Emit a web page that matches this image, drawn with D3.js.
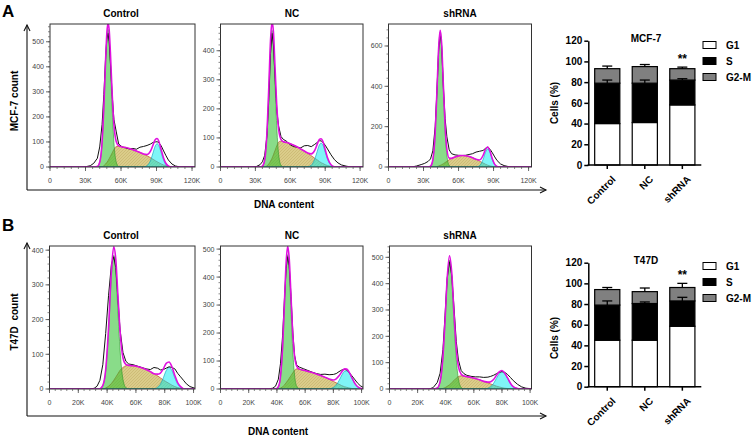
<!DOCTYPE html>
<html><head><meta charset="utf-8">
<script src="https://cdn.jsdelivr.net/npm/d3@7"></script>
<style>body{margin:0;background:#fff} svg{display:block;font-family:"Liberation Sans",Arial,sans-serif}</style>
</head><body><svg id="c" width="753" height="437"></svg>
<script>
// ---------------- DATA ----------------
const histTitles = ["Control", "NC", "shRNA"];
const xTicksA = [0, 30, 60, 90, 120];
const xTickLabelsA = ["0", "30K", "60K", "90K", "120K"];
const xTicksB = [0, 20, 40, 60, 80, 100];
const xTickLabelsB = ["0", "20K", "40K", "60K", "80K", "100K"];

// MCF-7 Control (DNA content in K, counts)
const aCtrlX  = [0,28,31,34,37,40,42,44,45.5,47,48,49,50,51,52.5,54,56,58,61,64,67,70,73,76,79,82,85,87,89,90.5,92,94,96,98,100,103,106,110,122.5];
const aCtrlG1 = [0,0,0,0,0,2,19,99,237,418,514,550,514,418,237,99,19,2,0,0,0,0,0,0,0,0,0,0,0,0,0,0,0,0,0,0,0,0,0];
const aCtrlS  = [0,0,0,0,0,0,0,0,5,12,18,25,33,42,56,70,82,83,80,78,74,69,64,58,52,45,37,31,25,21,17,12,8,5,2,0,0,0,0];
const aCtrlG2 = [0,0,0,0,0,0,0,0,0,0,0,0,0,0,0,0,0,0,0,0,0,0,0,0,0,5,27,56,85,93,85,56,27,9,2,0,0,0,0];
const aCtrlObs= [0,0,2,5,15,35,80,170,290,440,510,534,500,420,290,190,140,92,80,76,72,74,71,79,82,86,92,98,100,101,97,84,64,45,28,12,4,0,0];
const aCtrlY  = [0,100,200,300,400,500];

// MCF-7 NC
const aNcX  = [0,28,31,34,36,38,40,41.5,43,44.3,45.5,47,48.5,50,52,54,57,60,63,66,69,72,75,78,81,83,85,86.5,88,90,92,95,98,101,104,108,112,122.5];
const aNcG1 = [0,0,0,0,3,25,120,263,415,470,423,274,128,43,6,0,0,0,0,0,0,0,0,0,0,0,0,0,0,0,0,0,0,0,0,0,0,0];
const aNcS  = [0,0,0,0,0,0,4,10,20,30,42,58,74,86,89,87,84,80,75,69,62,55,47,39,30,25,19,15,12,8,5,2,0,0,0,0,0,0];
const aNcG2 = [0,0,0,0,0,0,0,0,0,0,0,0,0,0,0,0,0,0,0,0,0,0,1,6,27,52,76,82,76,52,27,6,1,0,0,0,0,0];
const aNcObs= [0,0,2,8,18,40,110,230,390,460,420,300,190,140,105,95,88,76,70,68,66,73,74,70,78,84,90,90,85,75,62,42,25,14,7,3,0,0];
const aNcY  = [0,100,200,300,400];

// MCF-7 shRNA
const aShX  = [0,20,24,28,31,34,36,38,40,41.5,43,44.3,45.5,47,48.5,50,52,54,57,60,63,66,69,72,75,78,81,83,85,87,89,91,93,96,99,102,106,122.5];
const aShG1 = [0,0,0,0,0,0,4,36,171,375,590,670,603,389,181,60,8,0,0,0,0,0,0,0,0,0,0,0,0,0,0,0,0,0,0,0,0,0];
const aShS  = [0,0,0,0,0,0,0,0,0,2,5,8,11,16,22,28,36,43,50,55,57,56,52,46,38,29,20,14,9,5,3,1,0,0,0,0,0,0];
const aShG2 = [0,0,0,0,0,0,0,0,0,0,0,0,0,0,0,0,0,0,0,0,0,0,0,0,0,6,37,72,90,72,37,12,3,0,0,0,0,0];
const aShObs= [0,0,5,12,18,28,40,80,200,380,580,663,600,400,240,150,85,66,60,58,57,58,62,66,74,78,82,92,98,88,70,50,32,15,7,3,0,0];
const aShY  = [0,200,400,600];

// T47D Control
const bCtrlX  = [0,28,31,33,35,37,39,41,43,44.6,46,47.5,49,51,53,55,58,61,64,67,70,72.5,75,77,79,81,83,85,87,89,91,93,95,97.5,101];
const bCtrlG1 = [0,0,0,0,1,10,52,168,327,385,340,225,112,28,4,0,0,0,0,0,0,0,0,0,0,0,0,0,0,0,0,0,0,0,0];
const bCtrlS  = [0,0,0,0,0,0,3,8,16,25,34,44,54,62,67,68,67,65,61,56,50,44,38,32,26,21,16,11,7,4,2,0,0,0,0];
const bCtrlG2 = [0,0,0,0,0,0,0,0,0,0,0,0,0,0,0,0,0,0,0,0,0,0,5,14,32,53,62,53,32,14,5,1,0,0,0];
const bCtrlObs= [0,0,2,8,25,70,160,270,360,381,350,260,170,105,80,72,70,66,62,58,56,62,60,55,56,60,64,62,58,45,35,25,15,7,2];
const bCtrlY  = [0,100,200,300,400];

// T47D NC
const bNcX  = [0,30,34,37,39,41,42.5,44,45.3,46.5,47.6,48.7,50,51.3,52.5,54,56,59,62,65,68,71,74,77,80,82,84,86,88,89.5,91,93,95,97,99,101];
const bNcG1 = [0,0,0,0,0,8,41,141,291,428,480,428,279,131,50,10,1,0,0,0,0,0,0,0,0,0,0,0,0,0,0,0,0,0,0,0];
const bNcS  = [0,0,0,0,0,0,3,8,14,22,30,38,48,58,67,72,70,67,63,59,54,48,42,35,27,22,17,12,8,6,4,2,1,0,0,0];
const bNcG2 = [0,0,0,0,0,0,0,0,0,0,0,0,0,0,0,0,0,0,0,0,0,0,0,1,5,14,30,50,64,65,58,40,21,9,3,1];
const bNcObs= [0,0,0,3,10,35,90,190,320,430,473,440,330,200,120,85,78,72,66,60,55,52,53,51,52,55,62,68,70,68,60,48,35,22,12,6];
const bNcY  = [0,100,200,300,400,500];

// T47D shRNA
const bShX  = [0,28,31,34,36,38,39.5,41,42.7,44.3,46,47.5,49,51,53,55,58,61,64,67,70,72,74,76,78,80,82,84,86,88,91,94,97,101];
const bShG1 = [0,0,0,4,28,120,255,408,490,416,244,112,39,6,0,0,0,0,0,0,0,0,0,0,0,0,0,0,0,0,0,0,0,0];
const bShS  = [0,0,0,0,0,2,5,10,16,24,33,41,47,50,49,47,44,40,35,29,23,19,15,11,8,5,3,2,1,0,0,0,0,0];
const bShG2 = [0,0,0,0,0,0,0,0,0,0,0,0,0,0,0,0,0,0,0,0,3,9,21,40,57,65,57,40,21,9,2,0,0,0];
const bShObs= [0,0,5,25,60,150,280,420,483,430,300,180,110,70,58,52,48,46,46,44,45,48,52,58,63,66,63,55,44,32,18,8,3,1];
const bShY  = [0,100,200,300,400,500];

// Bar charts (% cells)
const barCats = ["Control", "NC", "shRNA"];
const phaseKeys = ["G1", "S", "G2-M"];
const barTicks = [0, 20, 40, 60, 80, 100, 120];
const mcfG1  = [40, 41, 58];
const mcfS   = [39, 38, 24];
const mcfG2M = [14, 16, 11];
const mcfErrS  = [3, 3, 1.3];
const mcfErrG2 = [2.5, 2, 1.5];
const t47G1  = [45, 45, 58.5];
const t47S   = [34, 35.5, 24.5];
const t47G2M = [15, 11.5, 13];
const t47ErrS  = [4, 1.5, 3.5];
const t47ErrG2 = [2, 3.5, 4];
const sigMarks = ["", "", "**"];

// ---------------- DRAWING ----------------
const svg = d3.select("#c");
const defs = svg.append("defs");
const pat = defs.append("pattern").attr("id","hatch").attr("patternUnits","userSpaceOnUse")
  .attr("width",3).attr("height",3);
pat.append("rect").attr("width",3).attr("height",3).attr("fill","rgba(195,170,60,0.6)");
pat.append("path").attr("d","M0,3 L3,0").attr("stroke","rgba(140,110,30,0.3)").attr("stroke-width",0.6);

function histPanel(p, idx) {
  const x = d3.scaleLinear().domain([0, p.xmax]).range([p.x0, p.x1]);
  const y = d3.scaleLinear().domain([0, p.ymax]).range([p.yb, p.yt]);
  const cid = "clip" + idx;
  defs.append("clipPath").attr("id", cid).append("rect")
    .attr("x", p.x0).attr("y", p.yt).attr("width", p.x1 - p.x0).attr("height", p.yb - p.yt);
  const pts = arr => p.xs.map((v, i) => [v, arr[i]]);
  const area = d3.area().x(d => x(d[0])).y0(y(0)).y1(d => y(d[1])).curve(d3.curveMonotoneX);
  const line = d3.line().x(d => x(d[0])).y(d => y(d[1])).curve(d3.curveMonotoneX);
  const lineRaw = d3.line().x(d => x(d[0])).y(d => y(d[1]));
  const g = svg.append("g");
  const c = g.append("g").attr("clip-path", `url(#${cid})`);
  c.append("path").attr("d", area(pts(p.s))).attr("fill", "url(#hatch)").attr("stroke","rgb(200,90,60)").attr("stroke-width",0.8);
  c.append("path").attr("d", area(pts(p.g1))).attr("fill", "rgba(45,192,45,0.56)").attr("stroke","rgb(40,150,40)").attr("stroke-width",0.6);
  c.append("path").attr("d", area(pts(p.g2))).attr("fill", "rgba(0,235,240,0.5)").attr("stroke","rgb(0,160,190)").attr("stroke-width",0.6);
  c.append("path").attr("d", lineRaw(pts(p.obs))).attr("fill","none").attr("stroke","#111").attr("stroke-width",1);
  const fit = p.xs.map((v, i) => p.g1[i] + p.s[i] + p.g2[i]);
  c.append("path").attr("d", line(pts(fit))).attr("fill","none").attr("stroke","#e010e0").attr("stroke-width",1.6);
  // frame
  g.append("rect").attr("x", p.x0).attr("y", p.yt).attr("width", p.x1 - p.x0).attr("height", p.yb - p.yt)
    .attr("fill","none").attr("stroke","#333").attr("stroke-width",1);
  // y ticks
  const yMinor = d3.range(0, p.ymax, p.yMinorStep);
  g.selectAll(null).data(yMinor).join("line").attr("x1", p.x0).attr("x2", p.x0 - 2)
    .attr("y1", d => y(d)).attr("y2", d => y(d)).attr("stroke","#555").attr("stroke-width",0.7);
  g.selectAll(null).data(p.yTicks).join("line").attr("x1", p.x0).attr("x2", p.x0 - 4)
    .attr("y1", d => y(d)).attr("y2", d => y(d)).attr("stroke","#444").attr("stroke-width",0.8);
  g.selectAll(null).data(p.yTicks).join("text").attr("x", p.x0 - 6).attr("y", d => y(d)).attr("dy","0.35em")
    .attr("text-anchor","end").attr("font-size",7).attr("fill","#444").text(d => d);
  // x ticks
  const xMinor = d3.range(0, p.xmax, p.xMinorStep);
  g.selectAll(null).data(xMinor).join("line").attr("x1", d => x(d)).attr("x2", d => x(d))
    .attr("y1", p.yb).attr("y2", p.yb + 2).attr("stroke","#555").attr("stroke-width",0.7);
  g.selectAll(null).data(p.xTicks).join("line").attr("x1", d => x(d)).attr("x2", d => x(d))
    .attr("y1", p.yb).attr("y2", p.yb + 4).attr("stroke","#444").attr("stroke-width",0.8);
  g.selectAll(null).data(p.xTicks).join("text").attr("x", d => x(d)).attr("y", p.yb + 15.5)
    .attr("text-anchor","middle").attr("font-size",7).attr("fill","#444").text((d, i) => p.xLabels[i]);
  // title
  g.append("text").attr("x", p.tx).attr("y", p.yt - 7).attr("text-anchor","middle")
    .attr("font-size",10).attr("font-weight","bold").text(p.title);
}

const rowA = {yt: 24, yb: 167, xmax: 122.5, xTicks: xTicksA, xLabels: xTickLabelsA, xMinorStep: 6};
const rowB = {yt: 246, yb: 389, xmax: 101, xTicks: xTicksB, xLabels: xTickLabelsB, xMinorStep: 4};
const colsA = [[50,195],[220.5,363],[388.5,531.5]];
const colsB = [[49.5,195],[220.5,363],[389.5,531.5]];
const panels = [
  Object.assign({}, rowA, {x0:colsA[0][0], x1:colsA[0][1], tx:121, title:histTitles[0], ymax:571, yTicks:aCtrlY, yMinorStep:20, xs:aCtrlX, g1:aCtrlG1, s:aCtrlS, g2:aCtrlG2, obs:aCtrlObs}),
  Object.assign({}, rowA, {x0:colsA[1][0], x1:colsA[1][1], tx:292, title:histTitles[1], ymax:492, yTicks:aNcY, yMinorStep:20, xs:aNcX, g1:aNcG1, s:aNcS, g2:aNcG2, obs:aNcObs}),
  Object.assign({}, rowA, {x0:colsA[2][0], x1:colsA[2][1], tx:460, title:histTitles[2], ymax:709, yTicks:aShY, yMinorStep:40, xs:aShX, g1:aShG1, s:aShS, g2:aShG2, obs:aShObs}),
  Object.assign({}, rowB, {x0:colsB[0][0], x1:colsB[0][1], tx:121, title:histTitles[0], ymax:412, yTicks:bCtrlY, yMinorStep:20, xs:bCtrlX, g1:bCtrlG1, s:bCtrlS, g2:bCtrlG2, obs:bCtrlObs}),
  Object.assign({}, rowB, {x0:colsB[1][0], x1:colsB[1][1], tx:292, title:histTitles[1], ymax:511, yTicks:bNcY, yMinorStep:20, xs:bNcX, g1:bNcG1, s:bNcS, g2:bNcG2, obs:bNcObs}),
  Object.assign({}, rowB, {x0:colsB[2][0], x1:colsB[2][1], tx:460, title:histTitles[2], ymax:543, yTicks:bShY, yMinorStep:20, xs:bShX, g1:bShG1, s:bShS, g2:bShG2, obs:bShObs})
];
panels.forEach((p, i) => histPanel(p, i));

// big arrow axes
function bigAxes(top, corner, rightEnd) {
  const g = svg.append("g").attr("stroke","#111").attr("fill","none").attr("stroke-width",1.1);
  g.append("path").attr("d", `M27,${corner} V${top}`);
  g.append("path").attr("d", `M24,${top+6} L27,${top} L30,${top+6}`);
  g.append("path").attr("d", `M27,${corner} H${rightEnd}`);
  g.append("path").attr("d", `M${rightEnd-6},${corner-3} L${rightEnd},${corner} L${rightEnd-6},${corner+3}`);
}
bigAxes(25, 190, 546);
bigAxes(243, 416, 546);

svg.append("text").attr("x",2).attr("y",17).attr("font-size",17).attr("font-weight","bold").text("A");
svg.append("text").attr("x",2).attr("y",231).attr("font-size",17).attr("font-weight","bold").text("B");
svg.append("text").attr("transform","translate(18,101) rotate(-90)").attr("text-anchor","middle")
  .attr("font-size",10).attr("font-weight","bold").text("MCF-7 count");
svg.append("text").attr("transform","translate(18,322) rotate(-90)").attr("text-anchor","middle")
  .attr("font-size",10).attr("font-weight","bold").style("white-space","pre").text("T47D  count");
svg.append("text").attr("x",284).attr("y",208).attr("text-anchor","middle")
  .attr("font-size",10).attr("font-weight","bold").text("DNA content");
svg.append("text").attr("x",278).attr("y",435).attr("text-anchor","middle")
  .attr("font-size",10).attr("font-weight","bold").text("DNA content");

// bar charts
function barChart(c) {
  const y = d3.scaleLinear().domain([0, 120]).range([c.yb, c.yt]);
  const x = d3.scaleBand().domain(barCats).range([588.3, 701.3]).paddingInner(0.33).paddingOuter(0.17);
  const table = barCats.map((cat, i) => ({cat, "G1": c.g1[i], "S": c.s[i], "G2-M": c.g2[i]}));
  const series = d3.stack().keys(phaseKeys)(table);
  const fills = {"G1":"#ffffff", "S":"#000000", "G2-M":"#808080"};
  const g = svg.append("g");
  g.selectAll("g.ser").data(series).join("g").attr("fill", d => fills[d.key])
    .selectAll("rect").data(d => d).join("rect")
    .attr("x", d => x(d.data.cat)).attr("width", x.bandwidth())
    .attr("y", d => y(d[1])).attr("height", d => y(d[0]) - y(d[1]))
    .attr("stroke","#000").attr("stroke-width",1.2);
  // error bars
  const errs = [];
  barCats.forEach((cat, i) => {
    errs.push({cat, top: series[1][i][1], e: c.errS[i]});
    errs.push({cat, top: series[2][i][1], e: c.errG2[i]});
  });
  const eg = g.append("g").attr("stroke","#000").attr("stroke-width",1.3);
  errs.forEach(d => {
    const cx = x(d.cat) + x.bandwidth() / 2;
    eg.append("line").attr("x1", cx).attr("x2", cx).attr("y1", y(d.top)).attr("y2", y(d.top + d.e));
    eg.append("line").attr("x1", cx - 5).attr("x2", cx + 5).attr("y1", y(d.top + d.e)).attr("y2", y(d.top + d.e));
  });
  // significance
  barCats.forEach((cat, i) => {
    if (sigMarks[i]) g.append("text").attr("x", x(cat) + x.bandwidth()/2).attr("y", y(series[2][i][1] + c.errG2[i]) - 4)
      .attr("text-anchor","middle").attr("font-size",12).attr("font-weight","bold").text(sigMarks[i]);
  });
  // y axis
  const ya = g.append("g").attr("transform","translate(588.3,0)")
    .call(d3.axisLeft(y).tickValues(barTicks).tickSize(4).tickSizeOuter(0).tickPadding(2));
  ya.select(".domain").attr("stroke-width",1.5);
  ya.selectAll(".tick line").attr("stroke-width",1.5);
  ya.selectAll("text").attr("font-size",10).attr("font-weight","bold").attr("font-family","'Liberation Sans',Arial,sans-serif").attr("fill","#000");
  // x axis
  g.append("line").attr("x1",587.6).attr("x2",701.3).attr("y1",c.yb).attr("y2",c.yb).attr("stroke","#000").attr("stroke-width",1.5);
  barCats.forEach(cat => {
    const cx = x(cat) + x.bandwidth()/2;
    g.append("line").attr("x1",cx).attr("x2",cx).attr("y1",c.yb).attr("y2",c.yb+4).attr("stroke","#000").attr("stroke-width",1.5);
    g.append("text").attr("transform",`translate(${cx+9},${c.yb+15}) rotate(-45)`).attr("text-anchor","end")
      .attr("font-size",10).attr("font-weight","bold").text(cat);
  });
  g.append("text").attr("transform",`translate(558,${c.labY}) rotate(-90)`).attr("text-anchor","middle")
    .attr("font-size",10).attr("font-weight","bold").text("Cells (%)");
  g.append("text").attr("x",646).attr("y",c.yt+1).attr("text-anchor","middle").attr("font-size",10).attr("font-weight","bold").text(c.title);
  // legend
  phaseKeys.forEach((k, i) => {
    const ly = c.legY + i * 16;
    g.append("rect").attr("x",703).attr("y",ly-3.5).attr("width",13).attr("height",7).attr("fill",fills[k]).attr("stroke","#000").attr("stroke-width",1);
    g.append("text").attr("x",726).attr("y",ly).attr("dy","0.35em").attr("font-size",10).attr("font-weight","bold").text(k);
  });
}
barChart({yb:165, yt:40.7, title:"MCF-7", labY:103, legY:45, g1:mcfG1, s:mcfS, g2:mcfG2M, errS:mcfErrS, errG2:mcfErrG2});
barChart({yb:386.7, yt:262.7, title:"T47D", labY:338, legY:266, g1:t47G1, s:t47S, g2:t47G2M, errS:t47ErrS, errG2:t47ErrG2});
</script></body></html>
